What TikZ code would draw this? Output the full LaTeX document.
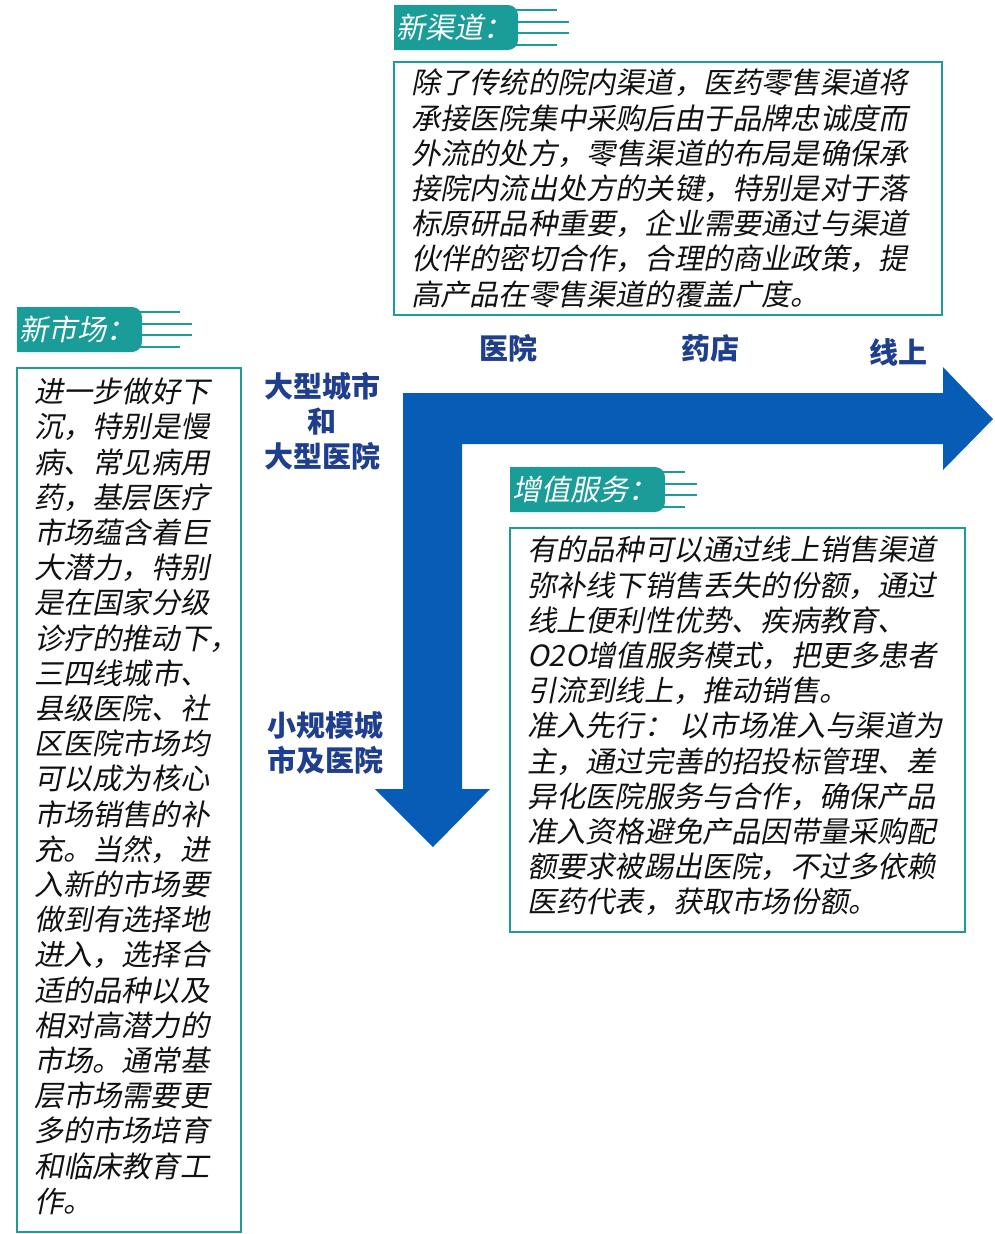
\documentclass[tikz,border=0pt]{standalone}
\usepackage{fontspec}
\newfontfamily\cjk{Noto Sans CJK SC}
\newfontfamily\cjkit{Noto Sans CJK SC}[FakeSlant=0.2]
\definecolor{tealc}{HTML}{1A9C98}
\definecolor{panah}{HTML}{075DB6}
\definecolor{labelblue}{HTML}{1F3E8E}
\definecolor{teks}{HTML}{111111}
\newcommand{\tagbar}[6]{%
  \fill[tealc] (#2,#3) -- ({#4-20},#3) [rounded corners=10pt] -- (#4,#3) -- (#4,{#3+45}) -- ({#4-20},{#3+45}) [sharp corners] -- (#2,{#3+45}) -- cycle;
  \foreach \dy/\len in {5/0,17/12,28/12,40/0}
    \draw[tealc,line width=1.6pt] ({#4-10},{#3+\dy}) -- ({#5-12+\len},{#3+\dy});
  \node[tagtext] (#1) at ({#2+2},{#3+22.5}) {#6};}

\begin{document}
\begin{tikzpicture}[x=1pt,y=-1pt,
  tagtext/.style={anchor=west,inner sep=0pt,text=white,font=\cjkit\fontsize{29}{30}\selectfont},
  isi/.style={anchor=north west,inner sep=0pt,align=left,text=teks,font=\cjkit\fontsize{29.2}{35.2}\selectfont},
  lbl/.style={inner sep=0pt,align=center,text=labelblue,font=\cjk\bfseries\fontsize{29}{35}\selectfont},
  kotak/.style={draw=tealc,line width=1.8pt}]
  \useasboundingbox (0,0) rectangle (994,1234);

  \fill[panah] (403,393) -- (943,393) -- (943,367) -- (993,419) -- (943,470) -- (943,444)
    -- (462,444) -- (462,789) -- (490,789) -- (433,847) -- (375,789) -- (403,789) -- cycle;

  \tagbar{tagchannel}{394}{5}{518}{569}{新渠道：}
  \tagbar{tagmarket}{17}{307}{142}{192}{新市场：}
  \tagbar{tagservice}{510}{467}{665}{697}{增值服务：}

  \draw[kotak] (394,62) rectangle (942,315);
  \draw[kotak] (17,368) rectangle (241,1232);
  \draw[kotak] (510,528) rectangle (965,932);

  \node[isi] (channeltext) at (411,69) {除了传统的院内渠道，医药零售渠道将\\承接医院集中采购后由于品牌忠诚度而\\外流的处方，零售渠道的布局是确保承\\接院内流出处方的关键，特别是对于落\\标原研品种重要，企业需要通过与渠道\\伙伴的密切合作，合理的商业政策，提\\高产品在零售渠道的覆盖广度。};
  \node[isi] (markettext) at (34,378) {进一步做好下\\沉，特别是慢\\病、常见病用\\药，基层医疗\\市场蕴含着巨\\大潜力，特别\\是在国家分级\\诊疗的推动下，\\三四线城市、\\县级医院、社\\区医院市场均\\可以成为核心\\市场销售的补\\充。当然，进\\入新的市场要\\做到有选择地\\进入，选择合\\适的品种以及\\相对高潜力的\\市场。通常基\\层市场需要更\\多的市场培育\\和临床教育工\\作。};
  \node[isi] (servicetext) at (527,536) {有的品种可以通过线上销售渠道\\弥补线下销售丢失的份额，通过\\线上便利性优势、疾病教育、\\O2O增值服务模式，把更多患者\\引流到线上，推动销售。\\准入先行： 以市场准入与渠道为\\主，通过完善的招投标管理、差\\异化医院服务与合作，确保产品\\准入资格避免产品因带量采购配\\额要求被踢出医院，不过多依赖\\医药代表，获取市场份额。};

  \node[lbl] (hospital) at (508,348) {医院};
  \node[lbl] (pharmacy) at (710,348) {药店};
  \node[lbl] (online) at (898,352) {线上};
  \node[lbl] (bigcity) at (322,421) {大型城市\\和\\大型医院};
  \node[lbl] (smallcity) at (325,743) {小规模城\\市及医院};
\end{tikzpicture}
\end{document}
